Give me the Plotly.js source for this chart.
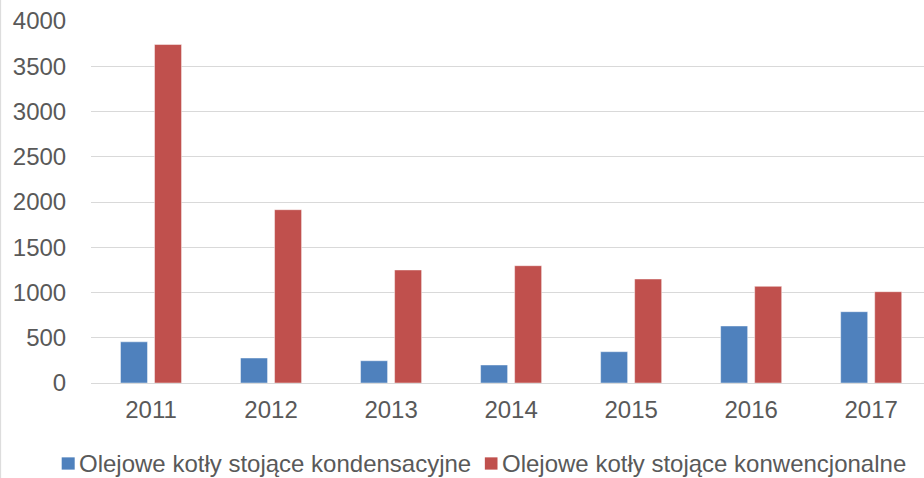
<!DOCTYPE html>
<html>
<head>
<meta charset="utf-8">
<script src="https://cdn.plot.ly/plotly-3.0.1.min.js"></script>
<style>html,body{margin:0;padding:0;background:#fff;}#chart{width:924px;height:478px;}</style>
</head>
<body>
<div id="chart"></div>
<script>
const years = ['2011','2012','2013','2014','2015','2016','2017'];
const kondensacyjne = [455, 276, 246, 199, 346, 630, 788];
const konwencjonalne = [3740, 1915, 1249, 1296, 1149, 1068, 1009];
const seriesNames = ['Olejowe kotły stojące kondensacyjne', 'Olejowe kotły stojące konwencjonalne'];
const seriesColors = ['#4F81BD', '#C0504D'];

const font = {family: 'Liberation Sans, Arial, sans-serif', size: 24, color: '#595959'};
const traces = [
  {type: 'bar', x: years, y: kondensacyjne, name: seriesNames[0],
   marker: {color: seriesColors[0], line: {color: 'rgba(255,255,255,0.45)', width: 1}}},
  {type: 'bar', x: years, y: konwencjonalne, name: seriesNames[1],
   marker: {color: seriesColors[1], line: {color: 'rgba(255,255,255,0.45)', width: 1}}}
];

// Manual legend (one row, as in the reference), placed in paper coordinates
const legendSquares = [[-0.03519, -0.01957], [0.4728, 0.4880]];
const legendTextX = [-0.0160, 0.4926];
const legendShapes = legendSquares.map((s, i) => ({
  type: 'rect', xref: 'paper', yref: 'paper', x0: s[0], x1: s[1], y0: -0.2393, y1: -0.2054,
  fillcolor: seriesColors[i], line: {width: 0}
}));
const legendAnn = seriesNames.map((n, i) => ({
  xref: 'paper', yref: 'paper', x: legendTextX[i], y: -0.2214, xanchor: 'left', yanchor: 'middle',
  text: n, showarrow: false, font: font, borderpad: 0
}));

const layout = {
  width: 924, height: 478,
  margin: {l: 91.3, r: 0, t: 21, b: 94.7},
  paper_bgcolor: '#fff', plot_bgcolor: '#fff',
  font: font,
  barmode: 'group', bargap: 0.433, bargroupgap: 0.206,
  showlegend: false,
  xaxis: {type: 'category', range: [-0.5, 6.44], showgrid: false, zeroline: false,
          showline: false, ticks: 'outside', ticklen: 5, tickcolor: 'rgba(0,0,0,0)',
          tickfont: font, fixedrange: true, automargin: false},
  yaxis: {range: [0, 4000], dtick: 500, showgrid: true, gridcolor: '#d9d9d9', gridwidth: 1,
          zeroline: true, zerolinecolor: '#d9d9d9', zerolinewidth: 1, showline: false,
          ticks: 'outside', ticklen: 19, tickcolor: 'rgba(0,0,0,0)', tickfont: font,
          fixedrange: true, automargin: false},
  annotations: legendAnn,
  shapes: [{type: 'line', xref: 'paper', yref: 'paper', x0: -0.1085, x1: -0.1085, y0: -0.3, y1: 1.1,
            line: {color: '#d9d9d9', width: 1}}].concat(legendShapes)
};
Plotly.newPlot('chart', traces, layout, {displayModeBar: false, staticPlot: true});
</script>
</body>
</html>
